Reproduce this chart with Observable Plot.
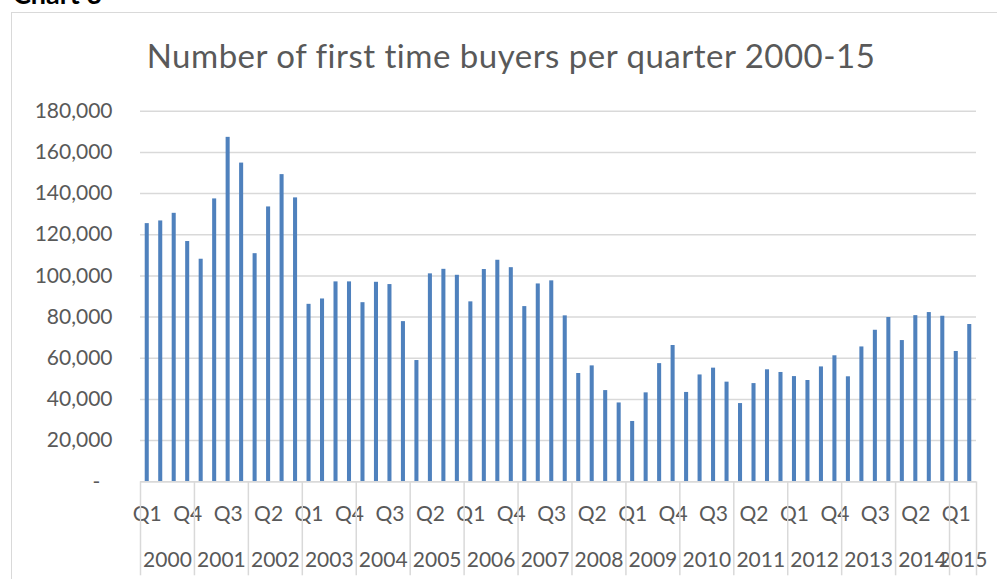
<!DOCTYPE html>
<html><head><meta charset="utf-8">
<script src="https://cdn.jsdelivr.net/npm/d3@7"></script>
<script src="https://cdn.jsdelivr.net/npm/@observablehq/plot@0.6"></script>
<style>
html,body{margin:0;padding:0;background:#fff;overflow:hidden;width:997px;height:579px;}
#page{position:relative;width:997px;height:579px;overflow:hidden;font-family:Lato,sans-serif;}
#frame{position:absolute;left:11px;top:12px;width:1100px;height:700px;border:1.5px solid #d9d9d9;box-sizing:border-box;}
#label{position:absolute;left:13px;top:-20px;font-family:Lato,sans-serif;font-weight:bold;font-size:27px;color:#000;line-height:27px;white-space:nowrap;}
#title{position:absolute;left:0;width:1022px;top:35px;text-align:center;font-size:33px;line-height:40px;color:#595959;font-weight:400;letter-spacing:0.5px;white-space:nowrap;}
#chart{position:absolute;left:0;top:80px;}
</style></head>
<body><div id="page">
<div id="frame"></div>
<div id="label">Chart 3</div>
<div id="title">Number of first time buyers per quarter 2000-15</div>
<div id="chart"></div>
</div>
<script>
const years = [2000,2001,2002,2003,2004,2005,2006,2007,2008,2009,2010,2011,2012,2013,2014,2015];
const quarterNames = ["Q1","Q2","Q3","Q4"];
const buyers = [
  125400,126700,130400,116700,
  108100,137400,167300,154800,
  110800,133500,149200,137900,
  86200,88800,97100,97100,
  87000,96900,95800,77800,
  58900,101000,103200,100300,
  87400,103100,107600,104000,
  85100,96100,97600,80600,
  52600,56300,44300,38300,
  29300,43200,57400,66200,
  43400,51900,55200,48400,
  38000,47700,54400,53100,
  51100,49200,55800,61200,
  51000,65500,73600,79800,
  68600,80700,82200,80400,
  63300,76400
];
const yTicks = [0,20000,40000,60000,80000,100000,120000,140000,160000,180000];

const data = buyers.map((v,i)=>({i, value:v, year: years[Math.floor(i/4)], q: quarterNames[i%4]}));
const n = data.length;
const qTicks = data.filter(d=>d.i%3===0).map(d=>d.i);
const yearGroups = years.map(y=>{const idx=data.filter(d=>d.year===y).map(d=>d.i);return {year:y, start:d3.min(idx), end:d3.max(idx)};});
const yearCenters = yearGroups.map(g=>(g.start+g.end)/2);
const boundaries = yearGroups.map(g=>g.start-0.5).concat([n-0.5]);
const fmt = d3.format(",");

const chart = Plot.plot({
  width: 997, height: 499,
  marginLeft: 140, marginRight: 21, marginTop: 30.7, marginBottom: 97.7,
  style: {fontFamily: "Lato, sans-serif", fontSize: "21px", color: "#595959", background: "transparent", overflow: "visible"},
  x: {domain: [-0.5, n-0.5], axis: null},
  y: {domain: [0, 180000], axis: null},
  marks: [
    Plot.gridY(yTicks, {stroke: "#d9d9d9", strokeOpacity: 1, strokeWidth: 1.5}),
    Plot.axisY(yTicks, {anchor: "left", tickSize: 0, tickPadding: 28, label: null, tickFormat: d => d === 0 ? "-\u2007" : fmt(d)}),
    Plot.rectY(data, {x1: d => d.i - 0.15, x2: d => d.i + 0.15, y: "value", fill: "#4f81bd"}),
    Plot.ruleY([0], {stroke: "#d9d9d9", strokeWidth: 1.5}),
    Plot.axisX(qTicks, {anchor: "bottom", tickSize: 0, tickPadding: 24, label: null, tickFormat: i => quarterNames[i%4]}),
    Plot.axisX(yearCenters, {anchor: "bottom", tickSize: 0, tickPadding: 70, label: null, tickFormat: c => String(yearGroups[yearCenters.indexOf(c)].year)}),
    Plot.axisX(boundaries, {anchor: "bottom", tickSize: 94, label: null, tickFormat: () => "", stroke: "#d9d9d9", strokeWidth: 1.5})
  ]
});
document.getElementById("chart").appendChild(chart);
</script>
</body></html>
